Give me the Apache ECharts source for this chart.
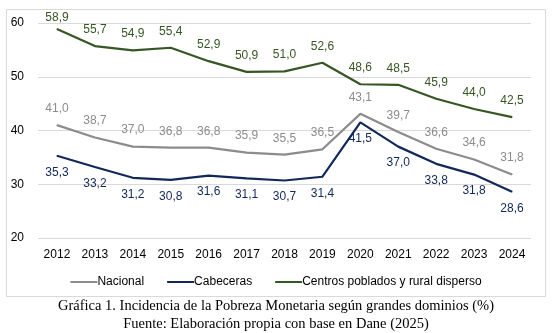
<!DOCTYPE html>
<html><head><meta charset="utf-8">
<script src="https://cdn.jsdelivr.net/npm/echarts@6/dist/echarts.min.js"></script>
<style>html,body{margin:0;padding:0;background:#fff}#c{width:552px;height:333px}</style>
</head><body><div id="c"></div>
<script>
var years = ['2012','2013','2014','2015','2016','2017','2018','2019','2020','2021','2022','2023','2024'];
var nacional = [41.0,38.7,37.0,36.8,36.8,35.9,35.5,36.5,43.1,39.7,36.6,34.6,31.8];
var cabeceras = [35.3,33.2,31.2,30.8,31.6,31.1,30.7,31.4,41.5,37.0,33.8,31.8,28.6];
var centros = [58.9,55.7,54.9,55.4,52.9,50.9,51.0,52.6,48.6,48.5,45.9,44.0,42.5];
var names = ['Nacional','Cabeceras','Centros poblados y rural disperso'];
var colors = ['#8c8c8c','#12285a','#375623'];

var chart = echarts.init(document.getElementById('c'));
function fmt(p){return p.value.toFixed(1).replace('.',',');}
function ser(name, data, color, pos){
  return {name:name,type:'line',data:data,symbol:'circle',symbolSize:1,showSymbol:true,
    lineStyle:{color:color,width:2.2},itemStyle:{color:color},
    label:{show:true,position:pos,distance:10,formatter:fmt,color:color,fontSize:12,fontFamily:'Liberation Sans, Arial'},
    labelLayout:{hideOverlap:false},
    emphasis:{disabled:true}};
}
var sCentros = ser(names[2],centros,colors[2],'top');
sCentros.data = centros.map(function(v,i){return i===0?{value:v,label:{distance:5}}:v;});
chart.setOption({
  animation:false,
  graphic:[{type:'rect',shape:{x:6.5,y:9.5,width:539,height:287},style:{fill:'none',stroke:'#d9d9d9',lineWidth:1}}],
  title:[{text:'Gráfica 1. Incidencia de la Pobreza Monetaria según grandes dominios (%)',
    left:'center',top:299,padding:0,
    textStyle:{fontFamily:'Liberation Serif, Times New Roman',fontSize:14.5,fontWeight:'normal',color:'#000'}},
    {text:'Fuente: Elaboración propia con base en Dane (2025)',
    left:'center',top:317,padding:0,
    textStyle:{fontFamily:'Liberation Serif, Times New Roman',fontSize:14.5,fontWeight:'normal',color:'#000'}}],
  legend:{data:names,top:271,left:'center',itemWidth:27,itemHeight:2,itemGap:23,icon:'rect',
    textStyle:{fontFamily:'Liberation Sans, Arial',fontSize:12,color:'#000',padding:[0,0,0,-5]}},
  grid:{left:38,right:21,top:23,bottom:95,containLabel:false},
  xAxis:{type:'category',data:years,boundaryGap:true,
    axisLine:{show:false},axisTick:{show:false},
    axisLabel:{color:'#000',fontSize:12,fontFamily:'Liberation Sans, Arial',margin:11}},
  yAxis:{type:'value',min:20,max:60,interval:10,
    axisLine:{show:false},axisTick:{show:false},
    splitLine:{lineStyle:{color:'#d9d9d9',width:1}},
    axisLabel:{color:'#000',fontSize:12,fontFamily:'Liberation Sans, Arial',margin:14}},
  series:[ser(names[0],nacional,colors[0],'top'),ser(names[1],cabeceras,colors[1],'bottom'),sCentros]
});
</script></body></html>
